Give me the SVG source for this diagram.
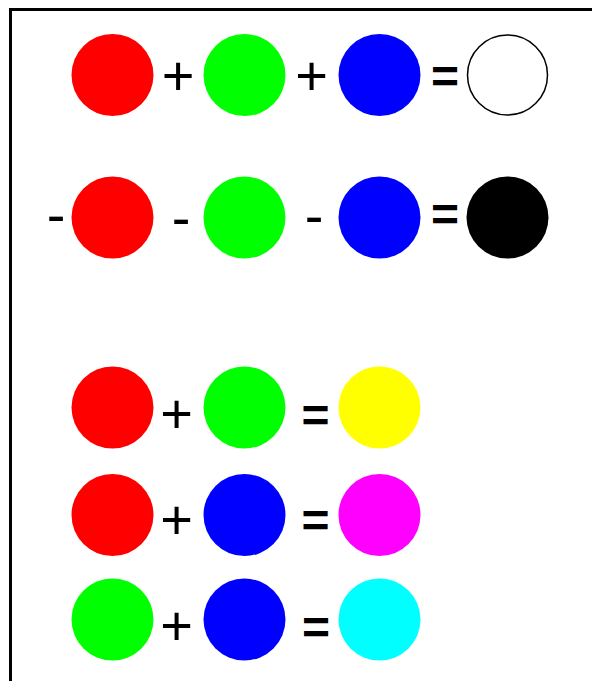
<svg xmlns="http://www.w3.org/2000/svg" width="592" height="681" viewBox="0 0 592 681">
<style>
.op{font-family:"Liberation Sans",Arial,sans-serif;font-size:56px;fill:#000;text-anchor:middle}
.eq{font-family:"Liberation Sans",Arial,sans-serif;font-size:48px;font-weight:bold;fill:#000;text-anchor:middle}
.frame{fill:none;stroke:#000;stroke-width:3}
</style>
<rect width="592" height="681" fill="#fff"/>
<path class="frame" d="M10.5,681 V9.5 H592"/>
<g id="row1">
<circle id="r1-red" cx="112.5" cy="75" r="41" fill="#ff0000"/>
<text class="op" x="178" y="95">+</text>
<circle id="r1-green" cx="244.5" cy="75" r="41" fill="#00ff00"/>
<text class="op" x="311.5" y="95">+</text>
<circle id="r1-blue" cx="379.5" cy="75" r="41" fill="#0000ff"/>
<text class="eq" x="445" y="93">=</text>
<circle id="r1-white" cx="507.5" cy="75" r="40" fill="#fff" stroke="#000" stroke-width="1.5"/>
</g>
<g id="row2">
<text class="op" x="56" y="234">-</text>
<circle id="r2-red" cx="112.5" cy="217.5" r="41" fill="#ff0000"/>
<text class="op" x="181" y="237">-</text>
<circle id="r2-green" cx="244.5" cy="217.5" r="41" fill="#00ff00"/>
<text class="op" x="314" y="235">-</text>
<circle id="r2-blue" cx="379.5" cy="217.5" r="41" fill="#0000ff"/>
<text class="eq" x="445" y="230.5">=</text>
<circle id="r2-black" cx="507.5" cy="217.5" r="41" fill="#000"/>
</g>
<g id="row3">
<circle id="r3-red" cx="112.5" cy="407.5" r="41" fill="#ff0000"/>
<text class="op" x="176.5" y="433">+</text>
<circle id="r3-green" cx="244.5" cy="407.5" r="41" fill="#00ff00"/>
<text class="eq" x="315.5" y="432">=</text>
<circle id="r3-yellow" cx="379.5" cy="407.5" r="41" fill="#ffff00"/>
</g>
<g id="row4">
<circle id="r4-red" cx="112.5" cy="515" r="41" fill="#ff0000"/>
<text class="op" x="176.5" y="539">+</text>
<circle id="r4-blue" cx="244.5" cy="515" r="41" fill="#0000ff"/>
<text class="eq" x="315.5" y="537">=</text>
<circle id="r4-magenta" cx="379.5" cy="515" r="41" fill="#ff00ff"/>
</g>
<g id="row5">
<circle id="r5-green" cx="112.5" cy="619.5" r="41" fill="#00ff00"/>
<text class="op" x="176.5" y="645">+</text>
<circle id="r5-blue" cx="244.5" cy="619.5" r="41" fill="#0000ff"/>
<text class="eq" x="316" y="644">=</text>
<circle id="r5-cyan" cx="379.5" cy="619.5" r="41" fill="#00ffff"/>
</g>
</svg>
